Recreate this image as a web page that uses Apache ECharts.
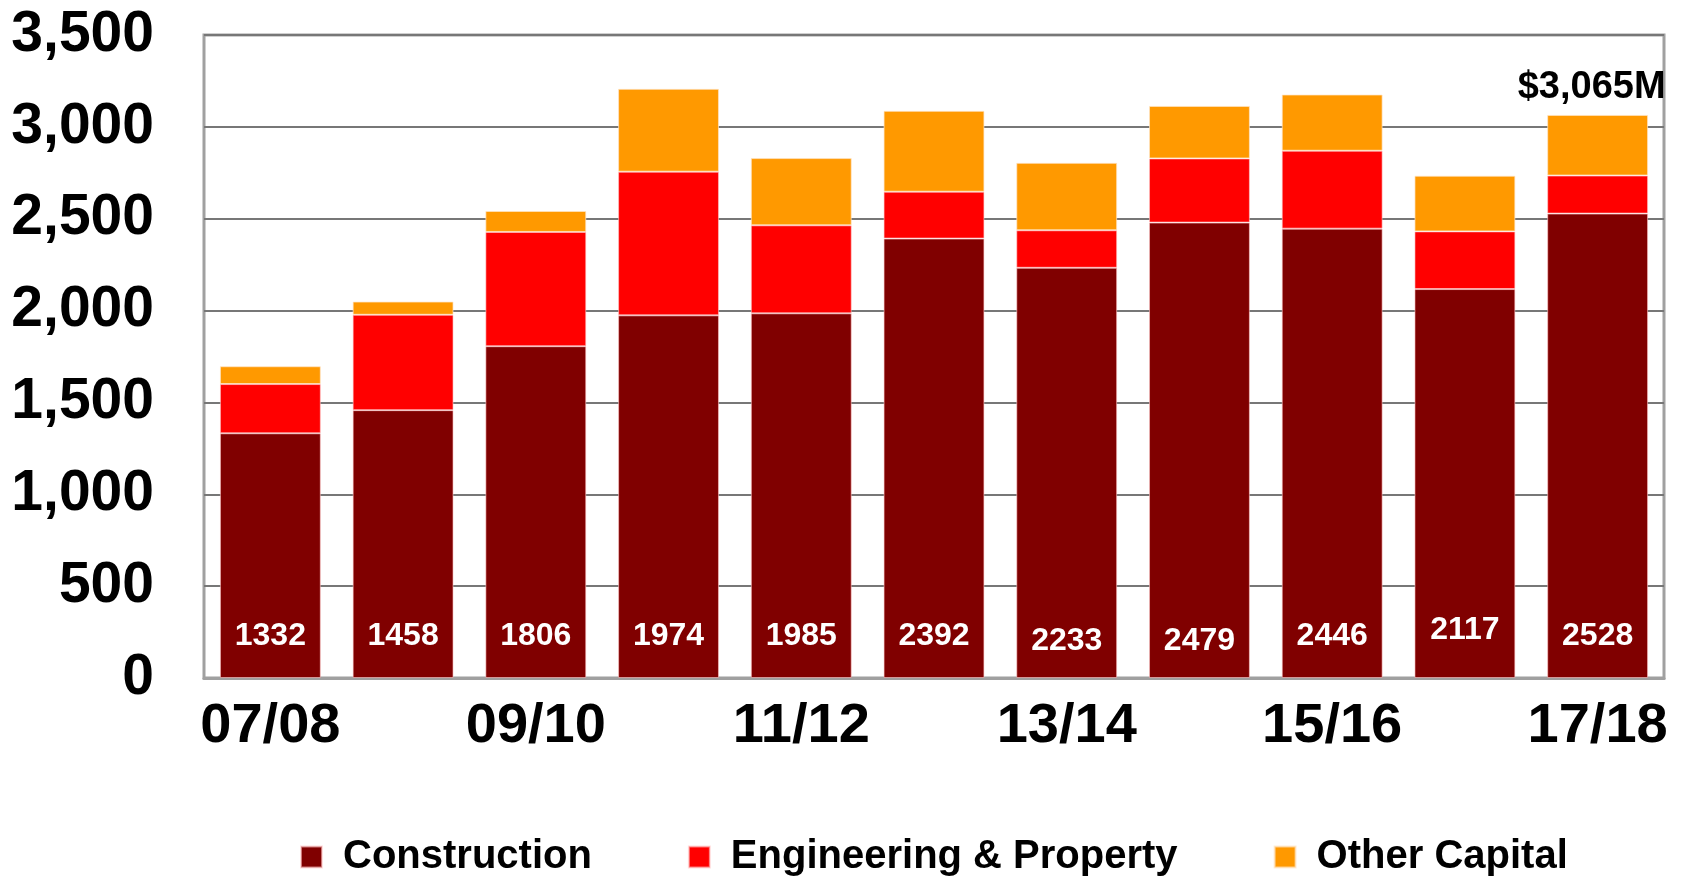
<!DOCTYPE html>
<html>
<head>
<meta charset="utf-8">
<script src="https://cdn.jsdelivr.net/npm/echarts@6/dist/echarts.min.js"></script>
<style>
html,body{margin:0;padding:0;background:#fff;}
#chart{width:1683px;height:877px;}
</style>
</head>
<body>
<div id="chart"></div>
<script>
var categories = ['07/08','08/09','09/10','10/11','11/12','12/13','13/14','14/15','15/16','16/17','17/18'];
var construction = [1332,1458,1806,1974,1985,2392,2233,2479,2446,2117,2528];
var engineering = [268,519,622,782,479,255,204,349,424,314,207];
var otherCapital = [97,72,114,451,366,440,367,286,306,303,330];
var totalLabel = '$3,065M';
var yTicks = [0,500,1000,1500,2000,2500,3000,3500];

var FONT = '"Liberation Sans", Arial, sans-serif';
var chart = echarts.init(document.getElementById('chart'), null, {renderer:'canvas'});

// small vertical nudges of the inside labels, as in the reference artwork
var labelNudge = {6: 5, 7: 5, 9: -6};
var constructionData = construction.map(function(v, i){
  if (labelNudge[i] !== undefined) {
    return {value: v, label: {offset: [0, labelNudge[i]]}};
  }
  return v;
});

var lastIdx = categories.length - 1;
var otherData = otherCapital.map(function(v, i){
  if (i === lastIdx) {
    return {value: v, label: {show: true, position: 'top', distance: 8, offset: [-6, 0],
      formatter: totalLabel, color: '#000', fontSize: 38, fontWeight: 'bold', fontFamily: FONT}};
  }
  return v;
});

chart.setOption({
  animation: false,
  backgroundColor: '#fff',
  grid: {left: 204, right: 19, top: 35, bottom: 199, show: true, borderColor: '#a0a0a0', borderWidth: 3, containLabel: false},
  legend: {
    data: ['Construction','Engineering & Property','Other Capital'],
    bottom: -5, left: 295,
    icon: 'rect', itemWidth: 21, itemHeight: 21, itemGap: 96,
    textStyle: {fontSize: 40, fontWeight: 'bold', fontFamily: FONT, color: '#000', padding: [0,0,0,16]}
  },
  xAxis: {
    type: 'category', data: categories,
    axisLine: {show: true, lineStyle: {color: '#a0a0a0', width: 3}},
    axisTick: {show: false},
    axisLabel: {interval: 1, margin: 21, fontSize: 56, fontWeight: 'bold', fontFamily: FONT, color: '#000'}
  },
  yAxis: {
    type: 'value', min: yTicks[0], max: yTicks[yTicks.length-1], interval: 500,
    axisLine: {show: false}, axisTick: {show: false},
    splitLine: {show: true, lineStyle: {color: '#777777', width: 2}},
    axisLabel: {margin: 50, fontSize: 57, fontWeight: 'bold', fontFamily: FONT, color: '#000',
      formatter: function(v){ return echarts.format.addCommas(v); }}
  },
  series: [
    {name: 'Construction', type: 'bar', stack: 'total', data: constructionData, barWidth: '76%',
      itemStyle: {color: '#800000', borderColor: 'rgba(255,200,200,0.6)', borderWidth: 1},
      label: {show: true, position: 'insideBottom', distance: 26, color: '#fff', fontSize: 32, fontWeight: 'bold', fontFamily: FONT}},
    {name: 'Engineering & Property', type: 'bar', stack: 'total', data: engineering,
      itemStyle: {color: '#ff0000', borderColor: 'rgba(255,200,200,0.6)', borderWidth: 1}},
    {name: 'Other Capital', type: 'bar', stack: 'total', data: otherData,
      itemStyle: {color: '#ff9900', borderColor: 'rgba(255,230,200,0.7)', borderWidth: 1}}
  ]
});
</script>
</body>
</html>
